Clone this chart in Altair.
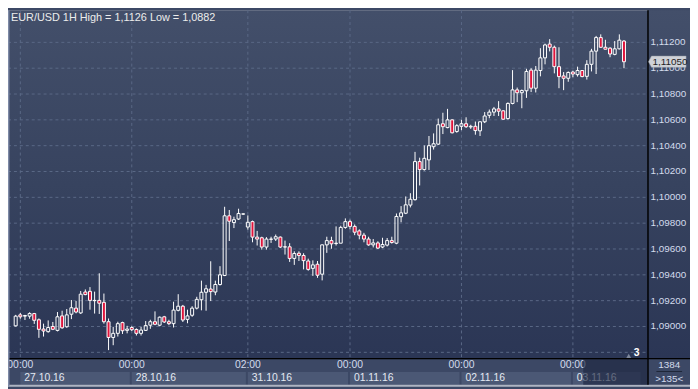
import altair as alt
import pandas as pd

# ---------------- data (EUR/USD, 1H candles) ----------------
first_bar = -1
opens = [1.09005, 1.0909, 1.0908, 1.0908, 1.0910, 1.09052, 1.0898, 1.0896, 1.0900, 1.0897,
         1.09082, 1.08998, 1.09095, 1.09142, 1.09105, 1.09267, 1.09272, 1.09202, 1.09202, 1.09187,
         1.09037, 1.08915, 1.08947, 1.0903, 1.0897, 1.08992, 1.08977, 1.08947, 1.0897, 1.0901,
         1.09037, 1.0901, 1.09075, 1.09037, 1.09022, 1.09125, 1.09157, 1.09055, 1.09087, 1.09142,
         1.09207, 1.09265, 1.0929, 1.09267, 1.09325, 1.09395, 1.09857, 1.09805, 1.09832, 1.0987,
         1.0977, 1.09812, 1.09692, 1.09687, 1.09615, 1.09675, 1.09677, 1.09692, 1.09617, 1.09617,
         1.09527, 1.09567, 1.0955, 1.09507, 1.0945, 1.09482, 1.09405, 1.09632, 1.09665, 1.09642,
         1.09645, 1.09767, 1.09812, 1.09775, 1.0974, 1.09707, 1.09677, 1.09632, 1.09647, 1.09615,
         1.0963, 1.09665, 1.09645, 1.0985, 1.09877, 1.0994, 1.09982, 1.10277, 1.10215, 1.1029,
         1.10392, 1.10412, 1.1057, 1.1054, 1.106, 1.1051, 1.1055, 1.1057, 1.10545, 1.1055,
         1.10515, 1.10585, 1.10635, 1.1066, 1.10685, 1.1067, 1.1061, 1.10727, 1.10832, 1.1081,
         1.10825, 1.10985, 1.10845, 1.10982, 1.1108, 1.11187, 1.11162, 1.11012, 1.1094, 1.10922,
         1.1097, 1.1095, 1.10982, 1.10937, 1.1103, 1.11132, 1.11237, 1.11162, 1.11155, 1.11107,
         1.1115, 1.1121]
highs = [1.0909, 1.09105, 1.0909, 1.0911, 1.09105, 1.09062, 1.09022, 1.09047, 1.09035, 1.09112,
         1.09122, 1.09135, 1.09205, 1.09197, 1.09275, 1.09287, 1.09305, 1.0927, 1.09412, 1.09255,
         1.09062, 1.08997, 1.09037, 1.09037, 1.09005, 1.09002, 1.08985, 1.08997, 1.09042, 1.09052,
         1.09117, 1.09077, 1.09082, 1.09052, 1.09192, 1.0925, 1.09167, 1.0913, 1.09157, 1.0923,
         1.09355, 1.09322, 1.09505, 1.09355, 1.09467, 1.09927, 1.09902, 1.0985, 1.09912, 1.09875,
         1.0986, 1.0982, 1.0974, 1.09695, 1.09692, 1.09695, 1.09712, 1.09697, 1.09665, 1.09645,
         1.09582, 1.09582, 1.09567, 1.09525, 1.09512, 1.09507, 1.09635, 1.09695, 1.09695, 1.09775,
         1.0978, 1.09837, 1.09827, 1.0979, 1.09752, 1.09725, 1.09695, 1.09677, 1.0966, 1.09687,
         1.09685, 1.09695, 1.09875, 1.09932, 1.10007, 1.10032, 1.10352, 1.10307, 1.10402, 1.10475,
         1.10495, 1.1061, 1.10655, 1.10685, 1.10605, 1.10567, 1.106, 1.1062, 1.10562, 1.10587,
         1.10587, 1.1066, 1.1068, 1.107, 1.10745, 1.10675, 1.10735, 1.10985, 1.1085, 1.10835,
         1.10995, 1.11, 1.11017, 1.11155, 1.1119, 1.11225, 1.11175, 1.11162, 1.1097, 1.10975,
         1.1098, 1.11012, 1.10985, 1.11062, 1.1115, 1.1125, 1.11262, 1.1122, 1.11162, 1.1121,
         1.11262, 1.11217]
lows = [1.0900, 1.0906, 1.0905, 1.0906, 1.0902, 1.08912, 1.08922, 1.08952, 1.08972, 1.08962,
        1.08982, 1.0899, 1.09057, 1.09102, 1.09097, 1.09242, 1.0913, 1.091, 1.09097, 1.09022,
        1.08817, 1.08855, 1.08922, 1.08942, 1.08947, 1.08965, 1.0893, 1.0893, 1.08965, 1.08982,
        1.0901, 1.09002, 1.09027, 1.0901, 1.08992, 1.09117, 1.09035, 1.09025, 1.09075, 1.09132,
        1.09125, 1.09122, 1.09197, 1.09242, 1.09317, 1.0939, 1.09662, 1.09762, 1.09825, 1.09865,
        1.0975, 1.09652, 1.09627, 1.09595, 1.09595, 1.09647, 1.09662, 1.09607, 1.09557, 1.095,
        1.09477, 1.09507, 1.09442, 1.09432, 1.09392, 1.09377, 1.09357, 1.0957, 1.09602, 1.09627,
        1.09645, 1.09757, 1.09752, 1.09707, 1.09675, 1.09652, 1.09625, 1.09612, 1.096, 1.09607,
        1.0962, 1.09642, 1.09637, 1.09807, 1.0987, 1.09922, 1.09975, 1.10092, 1.10207, 1.10212,
        1.1037, 1.10405, 1.1049, 1.10535, 1.10495, 1.105, 1.1052, 1.10537, 1.1053, 1.10485,
        1.10475, 1.10575, 1.10612, 1.1063, 1.1063, 1.106, 1.10602, 1.1072, 1.10737, 1.1069,
        1.1077, 1.10815, 1.10812, 1.10937, 1.1103, 1.1113, 1.1096, 1.10845, 1.1083, 1.10895,
        1.1093, 1.10935, 1.1093, 1.10912, 1.10975, 1.10955, 1.11157, 1.11145, 1.11085, 1.111,
        1.11145, 1.11]
closes = [1.0908, 1.09075, 1.09085, 1.0910, 1.09048, 1.08978, 1.08965, 1.08992, 1.08978, 1.09075,
          1.0899, 1.0909, 1.09145, 1.09112, 1.0925, 1.09247, 1.09202, 1.092, 1.0918, 1.09037,
          1.08915, 1.08947, 1.09022, 1.08967, 1.0898, 1.08975, 1.08947, 1.08972, 1.09007, 1.09037,
          1.09017, 1.09072, 1.09035, 1.09022, 1.09127, 1.09157, 1.0905, 1.09082, 1.09142, 1.0921,
          1.09265, 1.09292, 1.0927, 1.09325, 1.094, 1.09857, 1.09815, 1.09827, 1.09875, 1.09872,
          1.09807, 1.09692, 1.09677, 1.09615, 1.09677, 1.09677, 1.09695, 1.09615, 1.09615, 1.09527,
          1.09565, 1.0955, 1.0951, 1.09442, 1.09477, 1.09397, 1.09632, 1.09665, 1.0964, 1.09645,
          1.09767, 1.09812, 1.09775, 1.0973, 1.09707, 1.09677, 1.09632, 1.09647, 1.09607, 1.09635,
          1.09665, 1.0965, 1.09852, 1.0988, 1.09942, 1.09985, 1.10277, 1.10215, 1.10302, 1.104,
          1.10415, 1.10562, 1.10547, 1.106, 1.105, 1.10555, 1.1057, 1.10547, 1.1055, 1.10517,
          1.10585, 1.1063, 1.1066, 1.10685, 1.10667, 1.10605, 1.10727, 1.10832, 1.1081, 1.10827,
          1.10975, 1.10845, 1.10985, 1.1108, 1.1118, 1.11162, 1.11012, 1.10935, 1.10922, 1.10967,
          1.10955, 1.10982, 1.10935, 1.1103, 1.11132, 1.11237, 1.11162, 1.11147, 1.1111, 1.1115,
          1.11217, 1.1105]

day_bars = [0, 24, 49, 71, 95, 119]
time_labels = ["00:00", "00:00", "02:00", "00:00", "00:00", "00:00"]
date_labels = ["27.10.16", "28.10.16", "31.10.16", "01.11.16", "02.11.16", "03.11.16"]
price_grid = [1.088, 1.090, 1.092, 1.094, 1.096, 1.098, 1.100, 1.102, 1.104, 1.106, 1.108, 1.110, 1.112]
price_labels = [1.090, 1.092, 1.094, 1.096, 1.098, 1.100, 1.102, 1.104, 1.106, 1.108, 1.110, 1.112]
last_price = 1.1105
title_text = "EUR/USD 1H High = 1,1126 Low = 1,0882"
corner_top = "1384"
corner_bottom = ">135<"
marker_text = "3"

# ---------------- layout ----------------
W, H = 647, 352
RIGHT, BOTTOM = 43, 29
FONT = "Liberation Sans"
RED = "#e0143c"
GRID = "#5a6886"
LABEL = "#d3dbec"

xs = alt.Scale(domain=[-1.59, 134.0], nice=False, zero=False)
ys = alt.Scale(domain=[1.08755, 1.11449], nice=False, zero=False)

n = len(opens)
df = pd.DataFrame({"i": list(range(first_bar, first_bar + n)),
                   "o": opens, "h": highs, "l": lows, "c": closes})
df["top"] = df[["o", "c"]].max(axis=1)
df["bot"] = df[["o", "c"]].min(axis=1)
df["dir"] = ["up" if c >= o else "down" for o, c in zip(df["o"], df["c"])]

days = pd.DataFrame({"d": day_bars, "t": time_labels, "date": date_labels,
                     "d2": day_bars[1:] + [134.0]})
grid_p = pd.DataFrame({"p": price_grid})
lab_p = pd.DataFrame({"p": price_labels,
                      "s": [f"{v:.5f}".replace(".", ",") for v in price_labels]})
one = pd.DataFrame({"k": [0]})
lastdf = pd.DataFrame({"p": [last_price], "s": [f"{last_price:.5f}".replace(".", ",")]})

X = lambda f: alt.X(f, scale=xs, axis=None, title=None)
Y = lambda f: alt.Y(f, scale=ys, axis=None, title=None)

grad = alt.Gradient(gradient="linear",
                    stops=[alt.GradientStop(color="#434f6a", offset=0),
                           alt.GradientStop(color="#37435f", offset=0.5),
                           alt.GradientStop(color="#2b3655", offset=1)],
                    x1=0, x2=0, y1=0, y2=1)

bg = alt.Chart(one).mark_rect(fill=grad).encode(
    x=alt.value(0), x2=alt.value(W + RIGHT), y=alt.value(0), y2=alt.value(H))
strip = alt.Chart(one).mark_rect(fill="#3c4865").encode(
    x=alt.value(0), x2=alt.value(W + RIGHT), y=alt.value(H), y2=alt.value(H + BOTTOM))
bottom_border = alt.Chart(one).mark_rect(fill="#aeb4c2").encode(
    x=alt.value(0), x2=alt.value(W + RIGHT), y=alt.value(H + 27), y2=alt.value(H + BOTTOM))
left_border = alt.Chart(one).mark_rule(color="#7e8aa6", strokeWidth=1.5).encode(
    x=alt.value(0.75), y=alt.value(0), y2=alt.value(H + BOTTOM))

date_boxes = alt.Chart(days).mark_rect(fill="#4b5875", x2Offset=-2).encode(
    x=X("d:Q"), x2="d2:Q", y=alt.value(H + 14), y2=alt.value(H + 27))

hgrid = alt.Chart(grid_p).mark_rule(color=GRID, strokeDash=[3, 3], strokeWidth=1).encode(
    y=Y("p:Q"), x=alt.value(0), x2=alt.value(W))
vgrid = alt.Chart(days).mark_rule(color=GRID, strokeDash=[3, 3], strokeWidth=1).encode(
    x=X("d:Q"), y=alt.value(0), y2=alt.value(H))

wick_hi = alt.Chart(df).mark_rule(color="white", strokeWidth=1).encode(
    x=X("i:Q"), y=Y("h:Q"), y2="top:Q")
wick_lo = alt.Chart(df).mark_rule(color="white", strokeWidth=1).encode(
    x=X("i:Q"), y=Y("bot:Q"), y2="l:Q")

body_up = alt.Chart(df).transform_filter("datum.dir == 'up'").mark_bar(
    size=3, fill=RED, fillOpacity=0, stroke="white", strokeWidth=1).encode(
    x=X("i:Q"), y=Y("o:Q"), y2="c:Q")
body_dn = alt.Chart(df).transform_filter("datum.dir == 'down'").mark_bar(
    size=3, fill=RED, stroke="white", strokeWidth=1).encode(
    x=X("i:Q"), y=Y("o:Q"), y2="c:Q")

title = alt.Chart(one).mark_text(align="left", baseline="middle", font=FONT, fontSize=11,
                                 color="#ececec").encode(
    x=alt.value(3), y=alt.value(8), text=alt.value(title_text))

ylabels = alt.Chart(lab_p).mark_text(align="left", baseline="middle", font=FONT, fontSize=10,
                                     color=LABEL).encode(
    y=Y("p:Q"), x=alt.value(W + 3), text="s:N")

xlabels = alt.Chart(days).mark_text(align="center", baseline="middle", font=FONT, fontSize=10.5,
                                    color=LABEL).encode(
    x=X("d:Q"), y=alt.value(H + 7), text="t:N")
dlabels = alt.Chart(days).mark_text(align="left", baseline="middle", font=FONT, fontSize=10.5,
                                    color="#e4e9f2", dx=4).encode(
    x=X("d:Q"), y=alt.value(H + 20.5), text="date:N")

corner1 = alt.Chart(one).mark_text(align="center", baseline="middle", font=FONT, fontSize=10,
                                   color=LABEL).encode(
    x=alt.value(W + 22), y=alt.value(H + 7), text=alt.value(corner_top))
corner2 = alt.Chart(one).mark_text(align="center", baseline="middle", font=FONT, fontSize=10,
                                   color=LABEL).encode(
    x=alt.value(W + 22), y=alt.value(H + 21), text=alt.value(corner_bottom))
corner_sep = alt.Chart(one).mark_rule(color="#1e2638", strokeWidth=1).encode(
    x=alt.value(W + 9), x2=alt.value(W + 35), y=alt.value(H + 13.5))

marker_tri = alt.Chart(one).mark_point(shape="triangle-up", filled=True, size=30,
                                       color="#7d879b", opacity=1).encode(
    x=alt.value(W - 19), y=alt.value(H - 2))
marker_txt = alt.Chart(one).mark_text(align="center", baseline="middle", font=FONT, fontSize=10.5,
                                      fontWeight="bold", color="#ffffff").encode(
    x=alt.value(W - 11), y=alt.value(H - 5.5), text=alt.value(marker_text))

dark_box = alt.Chart(one).mark_rect(fill="#1d2640", opacity=0.65).encode(
    x=alt.value(W - 65), x2=alt.value(W), y=alt.value(H + 1), y2=alt.value(H + 27))

vline = alt.Chart(one).mark_rule(color="#000000", strokeWidth=1.5).encode(
    x=alt.value(W + 0.5), y=alt.value(0), y2=alt.value(H + 27))
hline = alt.Chart(one).mark_rule(color="#000000", strokeWidth=1.5).encode(
    x=alt.value(0), x2=alt.value(W + RIGHT), y=alt.value(H + 0.5))

price_box = alt.Chart(lastdf).mark_point(
    shape="M-1,0 L-0.84,-0.3 L1,-0.3 L1,0.3 L-0.84,0.3 Z",
    filled=True, size=1444, color="#cfd2d8", opacity=1,
    stroke="#9aa0aa", strokeWidth=0.5).encode(
    y=Y("p:Q"), x=alt.value(W + 20))
price_txt = alt.Chart(lastdf).mark_text(align="left", baseline="middle", font=FONT, fontSize=10,
                                        color="#1e1e1e").encode(
    y=Y("p:Q"), x=alt.value(W + 5), text="s:N")

chart = alt.layer(
    bg, strip, date_boxes, bottom_border, hgrid, vgrid,
    wick_hi, wick_lo, body_up, body_dn,
    title, ylabels, xlabels, dlabels, corner1, corner2, corner_sep,
    dark_box, marker_tri, marker_txt, vline, hline, left_border, price_box, price_txt
).properties(
    width=W, height=H,
    padding={"left": 0, "top": 0, "right": RIGHT, "bottom": BOTTOM},
    autosize=alt.AutoSizeParams(type="none"),
).configure_view(stroke=None).configure(background="#3c4865")

chart.save("out.html", embed_options={"renderer": "svg", "actions": False})
